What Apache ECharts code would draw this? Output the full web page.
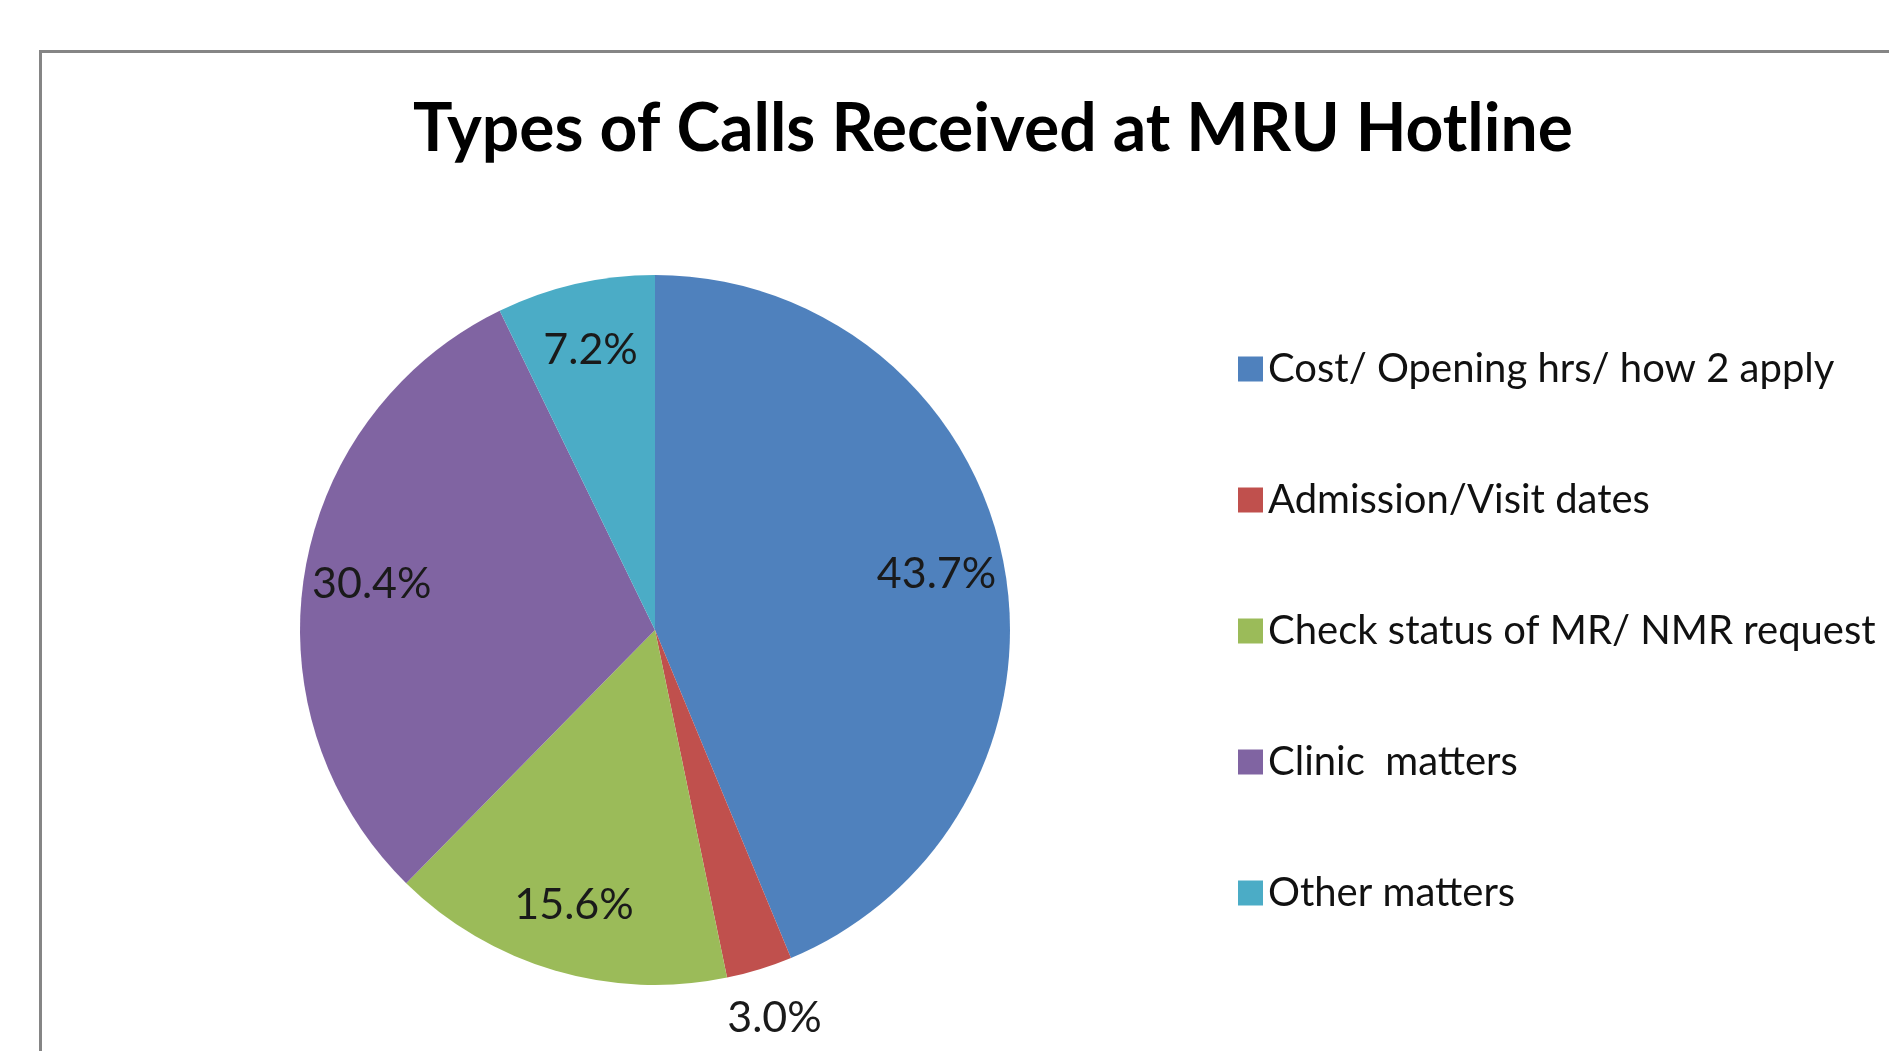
<!DOCTYPE html>
<html>
<head>
<meta charset="utf-8">
<title>Types of Calls Received at MRU Hotline</title>
<script src="https://cdn.jsdelivr.net/npm/echarts@6/dist/echarts.min.js"></script>
<style>
  html, body { margin: 0; padding: 0; background: #fff; }
  #main { width: 1889px; height: 1051px; }
</style>
</head>
<body>
<div id="main"></div>
<script>
// data
var categories = [
  "Cost/ Opening hrs/ how 2 apply",
  "Admission/Visit dates",
  "Check status of MR/ NMR request",
  "Clinic  matters",
  "Other matters"
];
var shares = [43.7, 3.0, 15.6, 30.4, 7.2];
var sliceColors = ["#4F81BD", "#C0504D", "#9BBB59", "#8064A2", "#4BACC6"];
// which labels sit outside the pie (Excel best fit put the small one outside)
var labelOutside = [false, true, false, false, false];

var FONT = "Lato, 'Open Sans', sans-serif";
var R = 355;
var center = [655, 630];

function fmt(v) { return v.toFixed(1) + "%"; }

var pieData = categories.map(function (name, i) {
  return { name: name, value: shares[i], itemStyle: { color: sliceColors[i] } };
});

// transparent rings used only to place the labels
function labelRing(outside) {
  return categories.map(function (name, i) {
    var show = labelOutside[i] === outside;
    return {
      name: name,
      value: shares[i],
      itemStyle: { color: "rgba(0,0,0,0)" },
      label: { show: show }
    };
  });
}

var labelStyle = {
  position: "inside",
  formatter: function (p) { return fmt(p.value); },
  fontFamily: FONT,
  fontSize: 43,
  color: "#1a1a1a",
  textBorderWidth: 0
};

var myChart = echarts.init(document.getElementById("main"));

var option = {
  backgroundColor: "#fff",
  animation: false,
  color: sliceColors,
  title: {
    text: "Types of Calls Received at MRU Hotline",
    left: 988,
    textAlign: "center",
    top: 92,
    textStyle: {
      fontFamily: FONT,
      fontWeight: "bold",
      fontSize: 66,
      color: "#000"
    }
  },
  legend: {
    orient: "vertical",
    left: 1233,
    top: 342,
    icon: "rect",
    itemWidth: 25,
    itemHeight: 25,
    itemGap: 87,
    selectedMode: false,
    data: categories,
    textStyle: {
      fontFamily: FONT,
      fontSize: 40,
      lineHeight: 44,
      color: "#111"
    }
  },
  graphic: [
    {
      type: "rect",
      silent: true,
      shape: { x: 40.5, y: 51.5, width: 1900, height: 1100 },
      style: { fill: null, stroke: "#858585", lineWidth: 3 }
    }
  ],
  series: [
    {
      name: "calls",
      type: "pie",
      center: center,
      radius: [0, R],
      startAngle: 90,
      clockwise: true,
      silent: true,
      label: { show: false },
      labelLine: { show: false },
      itemStyle: { borderWidth: 0 },
      data: pieData
    },
    {
      name: "labels-in",
      type: "pie",
      center: center,
      radius: [R * 0.6, R],
      startAngle: 90,
      silent: true,
      legendHoverLink: false,
      label: labelStyle,
      labelLine: { show: false },
      emphasis: { disabled: true },
      data: labelRing(false)
    },
    {
      name: "labels-out",
      type: "pie",
      center: center,
      radius: [R, R * 1.27],
      startAngle: 90,
      silent: true,
      legendHoverLink: false,
      label: labelStyle,
      labelLine: { show: false },
      emphasis: { disabled: true },
      data: labelRing(true)
    }
  ]
};

myChart.setOption(option, true);
</script>
</body>
</html>
